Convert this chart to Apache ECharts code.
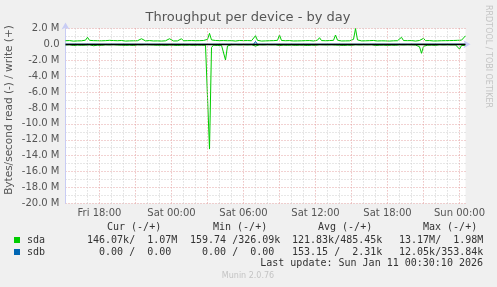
<!DOCTYPE html>
<html><head><meta charset="utf-8">
<script src="https://cdn.jsdelivr.net/npm/echarts@6/dist/echarts.min.js"></script>
<style>html,body{margin:0;padding:0;background:#f0f0f0;}#c{width:497px;height:287px;}</style>
</head><body><div id="c"></div>
<script>
// x tick labels shown on the axis
const tickLabels = ['Fri 18:00','Sat 00:00','Sat 06:00','Sat 12:00','Sat 18:00','Sun 00:00'];

// sample times: Fri 15:10 .. Sun 00:30, every 10 minutes
const dayNames = ['Fri','Sat','Sun'];
const startMinute = 15*60+10, stepMinutes = 10, sampleCount = 201;
const categories = [];
for (let i = 0; i < sampleCount; i++) {
  const t = startMinute + stepMinutes*i;
  const d = Math.floor(t/1440), h = Math.floor((t%1440)/60), m = t%60;
  categories.push(dayNames[d] + ' ' + String(h).padStart(2,'0') + ':' + String(m).padStart(2,'0'));
}

// sda write (+), MB/s
const sdaWrite = [
0.45,0.42,0.47,0.44,0.40,0.46,0.43,0.48,0.44,0.42,
0.52,0.88,0.50,0.43,0.46,0.41,0.45,0.48,0.44,0.40,
0.46,0.43,0.50,0.75,0.47,0.42,0.45,0.70,0.48,0.44,
0.41,0.46,0.43,0.47,0.44,0.40,0.45,0.49,0.70,0.46,
0.43,0.41,0.47,0.44,0.42,0.46,0.43,0.48,0.41,0.45,
0.44,0.47,0.70,0.45,0.42,0.46,0.43,0.48,0.70,0.44,
0.42,0.46,0.70,0.47,0.43,0.45,0.41,0.46,0.44,0.48,
0.50,0.62,1.38,0.55,0.44,0.48,0.52,0.46,0.43,0.47,
0.60,0.45,0.42,0.46,0.44,0.41,0.45,0.48,0.43,0.46,
0.42,0.47,0.44,0.45,0.52,1.08,0.50,0.44,0.41,0.46,
0.43,0.47,0.45,0.42,0.46,0.44,0.50,1.17,0.48,0.43,
0.45,0.41,0.47,0.44,0.42,0.46,0.43,0.48,0.44,0.41,
0.46,0.43,0.47,0.45,0.42,0.46,0.52,0.83,0.47,0.43,
0.45,0.42,0.47,0.44,0.50,1.17,0.52,0.45,0.42,0.46,
0.43,0.47,0.44,0.50,0.62,1.98,0.55,0.46,0.43,0.47,
0.44,0.41,0.46,0.43,0.48,0.45,0.42,0.46,0.44,0.47,
0.43,0.45,0.41,0.46,0.44,0.48,0.45,0.52,0.88,0.47,
0.43,0.46,0.42,0.47,0.44,0.41,0.46,0.48,0.52,0.75,
0.46,0.43,0.47,0.44,0.42,0.46,0.43,0.48,0.45,0.42,
0.46,0.44,0.47,0.43,0.48,0.45,0.50,0.46,0.52,0.75,
1.07
];
// sda read (-), MB/s
const sdaRead = [
-0.08,-0.12,-0.05,-0.10,-0.15,-0.06,-0.09,-0.04,-0.12,-0.08,
-0.10,-0.14,-0.06,-0.09,-0.18,-0.05,-0.11,-0.07,-0.13,-0.25,
-0.06,-0.10,-0.08,-0.12,-0.05,-0.16,-0.09,-0.07,-0.11,-0.06,
-0.13,-0.08,-0.10,-0.05,-0.14,-0.09,-0.06,-0.12,-0.08,-0.10,
-0.05,-0.11,-0.07,-0.15,-0.09,-0.06,-0.12,-0.08,-0.10,-0.05,
-0.13,-0.07,-0.09,-0.06,-0.11,-0.08,-0.14,-0.05,-0.10,-0.07,
-0.12,-0.06,-0.09,-0.08,-0.13,-0.05,-0.10,-0.07,-0.11,-0.08,
-0.12,-0.35,-13.17,-0.40,-0.10,-0.08,-0.15,-0.06,-0.12,-0.25,
-1.97,-0.20,-0.09,-0.07,-0.12,-0.05,-0.10,-0.08,-0.13,-0.06,
-0.11,-0.08,-0.10,-0.05,-0.14,-0.22,-0.09,-0.06,-0.12,-0.08,
-0.10,-0.05,-0.13,-0.07,-0.09,-0.06,-0.11,-0.15,-0.08,-0.10,
-0.05,-0.12,-0.07,-0.09,-0.06,-0.13,-0.08,-0.10,-0.05,-0.11,
-0.07,-0.14,-0.08,-0.10,-0.06,-0.12,-0.09,-0.05,-0.11,-0.07,
-0.13,-0.08,-0.10,-0.06,-0.12,-0.09,-0.05,-0.11,-0.08,-0.14,
-0.06,-0.10,-0.07,-0.12,-0.09,-0.05,-0.11,-0.08,-0.13,-0.06,
-0.10,-0.07,-0.12,-0.05,-0.09,-0.14,-0.08,-0.11,-0.06,-0.10,
-0.07,-0.13,-0.08,-0.10,-0.05,-0.12,-0.09,-0.06,-0.11,-0.08,
-0.14,-0.06,-0.10,-0.07,-0.12,-0.09,-0.05,-0.30,-1.13,-0.25,
-0.08,-0.12,-0.06,-0.10,-0.07,-0.13,-0.09,-0.05,-0.11,-0.08,
-0.10,-0.06,-0.12,-0.08,-0.14,-0.07,-0.20,-0.60,-0.15,-0.40,
-0.146
];
// sdb: [sample index, MB/s]
const sdbWrite = [[0,0],[71,0],[72,0.2],[73,0],[75,0],[76,0.2],[77,0],[94,0],[95,0.35],[96,0],[200,0]];
const sdbRead = [[0,0],[72,-0.012],[73,0],[200,0]];

// legend table
const legendHeaders = ['Cur (-/+)','Min (-/+)','Avg (-/+)','Max (-/+)'];
const sdaCells = ['146.07k/  1.07M','159.74 /326.09k','121.83k/485.45k',' 13.17M/  1.98M'];
const sdbCells = ['  0.00 /  0.00 ','  0.00 /  0.00 ','153.15 /  2.31k',' 12.05k/353.84k'];
const lastUpdate = 'Last update: Sun Jan 11 00:30:10 2026';

const GREEN = '#00cc00', BLUE = '#0066b3';
const AX = '#c8ccf4', MAJ = '#e4a4a4', MIN = '#cfcfcf', TXT = '#555555';
const MONO = '"DejaVu Sans Mono", monospace', SANS = '"DejaVu Sans", sans-serif';

const chart = echarts.init(document.getElementById('c'), null, {renderer:'canvas'});
function hm(c){ const p = c.split(' ')[1].split(':'); return [+p[0], +p[1]]; }

const headerX = [107,213,318,423];
const cellX = [87,190,292,393];
const graphics = [
  {type:'text', x:248, y:18, style:{text:'Throughput per device - by day', font:'13px '+SANS, fill:TXT, textAlign:'center', textVerticalAlign:'middle'}},
  {type:'text', x:9.5, y:110, rotation:Math.PI/2, style:{text:'Bytes/second read (-) / write (+)', font:'10.5px '+SANS, fill:TXT, textAlign:'center', textVerticalAlign:'middle'}},
  {type:'text', x:488, y:5, rotation:-Math.PI/2, style:{text:'RRDTOOL / TOBI OETIKER', font:'8px '+SANS, fill:'#c4c4c4', textAlign:'left', textVerticalAlign:'middle'}},
  {type:'rect', shape:{x:14,y:237,width:6,height:6}, style:{fill:GREEN}},
  {type:'rect', shape:{x:14,y:249,width:6,height:6}, style:{fill:BLUE}},
  {type:'text', x:27, y:240, style:{text:'sda', font:'10px '+MONO, fill:'#333', textVerticalAlign:'middle'}},
  {type:'text', x:27, y:252, style:{text:'sdb', font:'10px '+MONO, fill:'#333', textVerticalAlign:'middle'}},
  {type:'text', x:483, y:263.5, style:{text:lastUpdate, font:'10px '+MONO, fill:'#333', textAlign:'right', textVerticalAlign:'middle'}},
  {type:'text', x:248, y:276, style:{text:'Munin 2.0.76', font:'8px '+SANS, fill:'#c4c4c4', textAlign:'center', textVerticalAlign:'middle'}}
];
legendHeaders.forEach((h,i)=>graphics.push({type:'text', x:headerX[i], y:227.5, style:{text:h, font:'10px '+MONO, fill:'#333', textVerticalAlign:'middle'}}));
sdaCells.forEach((h,i)=>graphics.push({type:'text', x:cellX[i], y:240, style:{text:h, font:'10px '+MONO, fill:'#333', textVerticalAlign:'middle'}}));
sdbCells.forEach((h,i)=>graphics.push({type:'text', x:cellX[i], y:252, style:{text:h, font:'10px '+MONO, fill:'#333', textVerticalAlign:'middle'}}));

chart.setOption({
  animation:false,
  backgroundColor:'#f0f0f0',
  textStyle:{fontFamily:SANS},
  grid:{left:65.5, right:31.5, top:28.4, bottom:83.6, containLabel:false, outerBoundsMode:'none', show:true, backgroundColor:'#ffffff', borderWidth:0},
  xAxis:[
    {type:'category', data:categories, boundaryGap:false,
     axisLine:{show:true, lineStyle:{color:AX, width:1}, symbol:['none','arrow'], symbolSize:[6,7], symbolOffset:[0,5]},
     axisTick:{show:false},
     axisLabel:{interval:(i,v)=>tickLabels.indexOf(v)>=0, formatter:v=>v, color:TXT, fontSize:10, margin:5, fontFamily:SANS},
     splitLine:{show:true, interval:(i,v)=>{const t=hm(v); return t[1]===0 && t[0]%3===0;}, lineStyle:{color:MAJ, type:[1,2], width:1}},
     z:3},
    {type:'category', data:categories, boundaryGap:false, position:'bottom',
     axisLine:{show:false}, axisTick:{show:false}, axisLabel:{show:false},
     splitLine:{show:true, interval:(i,v)=>{const t=hm(v); return t[1]===0 && t[0]%3!==0;}, lineStyle:{color:MIN, type:[1,2], width:1}}}
  ],
  yAxis:{type:'value', min:-20, max:2, interval:2,
     axisLine:{show:true, lineStyle:{color:AX, width:1}, symbol:['none','arrow'], symbolSize:[6,7], symbolOffset:[0,6]},
     axisTick:{show:false},
     axisLabel:{color:TXT, fontSize:10, margin:6, fontFamily:SANS, formatter:v=>v===0?'0.0':v.toFixed(1)+' M'},
     splitLine:{show:true, lineStyle:{color:MAJ, type:[1,2], width:1}},
     minorTick:{show:false, splitNumber:2},
     minorSplitLine:{show:true, lineStyle:{color:MIN, type:[1,2], width:1}}
  },
  series:[
    {name:'sdb read', type:'line', data:sdbRead, symbol:'none', lineStyle:{color:BLUE, width:1}, z:2},
    {name:'sda write', type:'line', data:sdaWrite, symbol:'none', lineStyle:{color:GREEN, width:1}, z:2},
    {name:'sda read', type:'line', data:sdaRead, symbol:'none', lineStyle:{color:GREEN, width:1}, z:2},
    {name:'sdb write', type:'line', data:sdbWrite, symbol:'none', lineStyle:{color:BLUE, width:1}, z:2},
    {name:'zero', type:'line', data:[], symbol:'none', z:20,
     markLine:{silent:true, z:20, symbol:'none', label:{show:false}, data:[{yAxis:0}], lineStyle:{color:'#000', width:1.3, type:'solid'}}}
  ],
  graphic:graphics
});
</script></body></html>
